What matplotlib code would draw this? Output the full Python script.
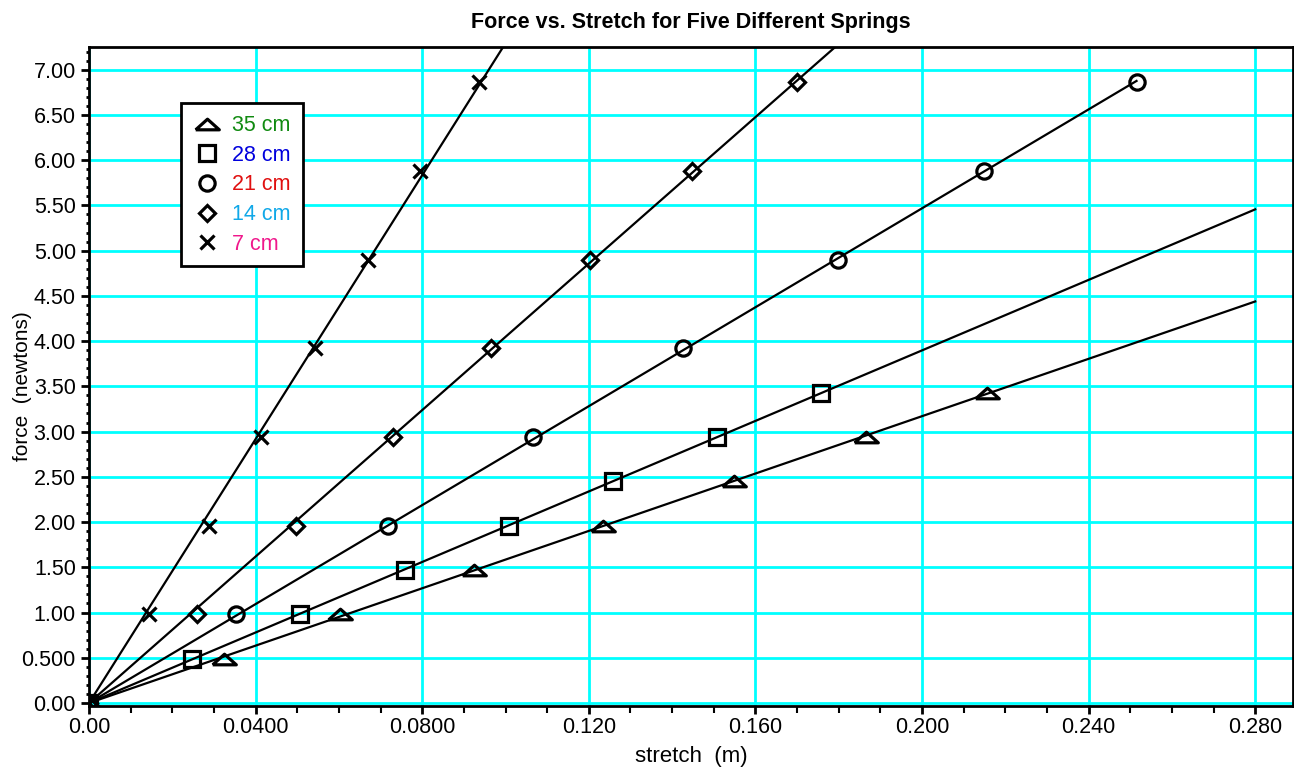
import numpy as np
import matplotlib
matplotlib.use('Agg')
import matplotlib.pyplot as plt

plt.rcParams['font.family'] = ['Liberation Sans', 'DejaVu Sans']

# spring data: stretch (m) vs force (N)
labels = ['35 cm', '28 cm', '21 cm', '14 cm', '7 cm']
label_colors = ['#108a10', '#0000dd', '#e01010', '#10a8e8', '#f0188c']

x35 = [0.0, 0.0325, 0.0603, 0.0925, 0.1235, 0.1549, 0.1866, 0.2156]
f35 = [0.0, 0.49, 0.98, 1.47, 1.96, 2.45, 2.94, 3.43]
x28 = [0.0, 0.0248, 0.0507, 0.0759, 0.1009, 0.1258, 0.1507, 0.1757]
f28 = [0.0, 0.49, 0.98, 1.47, 1.96, 2.45, 2.94, 3.43]
x21 = [0.0, 0.0353, 0.0717, 0.1067, 0.1425, 0.1799, 0.2150, 0.2515]
f21 = [0.0, 0.98, 1.96, 2.94, 3.92, 4.90, 5.88, 6.86]
x14 = [0.0, 0.0259, 0.0497, 0.0729, 0.0966, 0.1203, 0.1447, 0.1700]
f14 = [0.0, 0.98, 1.96, 2.94, 3.92, 4.90, 5.88, 6.86]
x7 = [0.0, 0.0145, 0.0289, 0.0413, 0.0543, 0.0669, 0.0795, 0.0937]
f7 = [0.0, 0.98, 1.96, 2.94, 3.92, 4.90, 5.88, 6.86]

xs = [x35, x28, x21, x14, x7]
fs = [f35, f28, f21, f14, f7]
fit_xmax = [0.28, 0.28, 0.2515, 0.28, 0.28]

xticks = [0.0, 0.04, 0.08, 0.12, 0.16, 0.20, 0.24, 0.28]
xtick_labels = ['0.00', '0.0400', '0.0800', '0.120', '0.160', '0.200', '0.240', '0.280']
yticks = [0.0, 0.5, 1.0, 1.5, 2.0, 2.5, 3.0, 3.5, 4.0, 4.5, 5.0, 5.5, 6.0, 6.5, 7.0]
ytick_labels = ['0.00', '0.500', '1.00', '1.50', '2.00', '2.50', '3.00', '3.50',
                '4.00', '4.50', '5.00', '5.50', '6.00', '6.50', '7.00']

tri = [(-1.0, -0.45), (0.0, 0.45), (1.0, -0.45), (-1.0, -0.45)]
markers = [tri, 's', 'o', 'D', 'x']
msizes = [17, 12, 11, 8, 10]

fig = plt.figure(figsize=(12.94, 7.73), dpi=100)
ax = fig.add_axes([0.0688, 0.0867, 0.9302, 0.852])

for x, f, mk, ms, xm, lab in zip(xs, fs, markers, msizes, fit_xmax, labels):
    x = np.array(x)
    f = np.array(f)
    k = np.sum(x * f) / np.sum(x * x)
    xl = np.array([0.0, xm])
    ax.plot(xl, k * xl, color='black', lw=1.6, zorder=3)
    ax.plot(x, f, linestyle='none', marker=mk, markersize=ms, markerfacecolor='none',
            markeredgecolor='black', markeredgewidth=2.3, zorder=4, label=lab)

ax.set_xlim(0, 0.289)
ax.set_ylim(-0.033, 7.246)
ax.set_xticks(xticks)
ax.set_xticklabels(xtick_labels)
ax.set_yticks(yticks)
ax.set_yticklabels(ytick_labels)
ax.set_xticks(np.arange(0, 0.2891, 0.01), minor=True)
ax.set_yticks(np.arange(0, 7.25, 0.1), minor=True)
ax.tick_params(axis='both', which='major', labelsize=15.5, length=6, width=2, direction='out')
ax.tick_params(axis='x', which='major', pad=2)
ax.tick_params(axis='x', which='minor', length=5, width=1.5)
ax.tick_params(axis='y', which='minor', length=2, width=2)
ax.grid(True, which='major', color='#00ffff', lw=2, zorder=0)
ax.set_axisbelow(True)
for s in ax.spines.values():
    s.set_linewidth(2)

ax.set_xlabel('stretch  (m)', fontsize=16, labelpad=6)
ax.set_ylabel('force  (newtons)', fontsize=15)
ax.yaxis.set_label_coords(-0.047, 0.485)
ax.set_title('Force vs. Stretch for Five Different Springs', fontsize=15.5,
             fontweight='bold', pad=14)

leg = ax.legend(loc='upper left', bbox_to_anchor=(0.076, 0.915), fontsize=15.5,
                labelcolor=label_colors, fancybox=False, framealpha=1,
                edgecolor='black', handlelength=1.4, handletextpad=0.45,
                labelspacing=0.4, borderpad=0.55, borderaxespad=0)
leg.get_frame().set_linewidth(2)

fig.savefig('out.png', dpi=100)
